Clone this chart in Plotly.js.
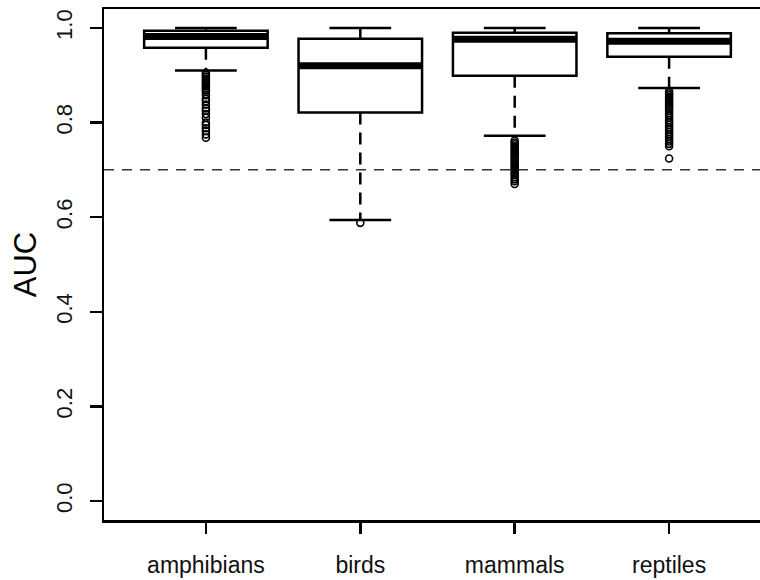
<!DOCTYPE html>
<html>
<head>
<meta charset="utf-8">
<script src="https://cdn.plot.ly/plotly-3.0.1.min.js"></script>
<style>
html,body{margin:0;padding:0;background:#fff;overflow:hidden;width:760px;height:580px;}
#chart{width:780px;height:580px;}
</style>
</head>
<body>
<div id="chart"></div>
<script>
// ---- data ----
var categories = ['amphibians', 'birds', 'mammals', 'reptiles'];
var q1 = [0.958, 0.821, 0.899, 0.939];
var medians = [0.982, 0.920, 0.976, 0.972];
var q3 = [0.994, 0.977, 0.990, 0.989];
var lowerWhisker = [0.910, 0.594, 0.772, 0.873];
var upperWhisker = [1.000, 1.000, 1.000, 1.000];
var outliersAmphibians = [0.905, 0.901, 0.897, 0.893, 0.889, 0.885, 0.881, 0.877, 0.873, 0.869, 0.865, 0.858, 0.850, 0.845, 0.838, 0.830, 0.825, 0.818, 0.810, 0.800, 0.795, 0.788, 0.782, 0.775, 0.768];
var outliersBirds = [0.588];
var outliersMammals = [0.762, 0.758, 0.754, 0.750, 0.746, 0.742, 0.738, 0.734, 0.730, 0.726, 0.722, 0.718, 0.714, 0.710, 0.706, 0.702, 0.698, 0.694, 0.690, 0.685, 0.680, 0.676, 0.670];
var outliersReptiles = [0.866, 0.862, 0.858, 0.854, 0.850, 0.846, 0.842, 0.838, 0.834, 0.830, 0.825, 0.820, 0.815, 0.810, 0.805, 0.800, 0.795, 0.790, 0.785, 0.780, 0.775, 0.770, 0.765, 0.760, 0.755, 0.750, 0.724];
var threshold = 0.7;
var yTickVals = [0, 0.2, 0.4, 0.6, 0.8, 1.0];
var yTickText = ['0.0', '0.2', '0.4', '0.6', '0.8', '1.0'];

var outliers = [outliersAmphibians, outliersBirds, outliersMammals, outliersReptiles];

// ---- build traces ----
var traces = [];
var boxHalf = 0.4, capHalf = 0.2;
categories.forEach(function (c, i) {
  var x = i + 1;
  traces.push({
    type: 'box', x: [x], q1: [q1[i]], median: [medians[i]], q3: [q3[i]],
    lowerfence: [q1[i]], upperfence: [q3[i]],
    width: 2 * boxHalf, whiskerwidth: 0, boxpoints: false,
    fillcolor: '#ffffff', line: {color: '#000', width: 2.5},
    hoverinfo: 'skip', showlegend: false
  });
});
// whiskers (dashed)
var wx = [], wy = [];
categories.forEach(function (c, i) {
  var x = i + 1;
  wx.push(x, x, null, x, x, null);
  wy.push(q3[i], upperWhisker[i], null, q1[i], lowerWhisker[i], null);
});
traces.push({type: 'scatter', mode: 'lines', x: wx, y: wy, line: {color: '#000', width: 2.5, dash: '12px,8px'}, hoverinfo: 'skip', showlegend: false});
// caps
var cx = [], cy = [];
categories.forEach(function (c, i) {
  var x = i + 1;
  cx.push(x - capHalf, x + capHalf, null, x - capHalf, x + capHalf, null);
  cy.push(upperWhisker[i], upperWhisker[i], null, lowerWhisker[i], lowerWhisker[i], null);
});
traces.push({type: 'scatter', mode: 'lines', x: cx, y: cy, line: {color: '#000', width: 2.5}, hoverinfo: 'skip', showlegend: false});
// medians (thick)
var mx = [], my = [];
categories.forEach(function (c, i) {
  var x = i + 1;
  mx.push(x - boxHalf, x + boxHalf, null);
  my.push(medians[i], medians[i], null);
});
traces.push({type: 'scatter', mode: 'lines', x: mx, y: my, line: {color: '#000', width: 7}, hoverinfo: 'skip', showlegend: false});
// outliers
var ox = [], oy = [];
categories.forEach(function (c, i) {
  outliers[i].forEach(function (v) { ox.push(i + 1); oy.push(v); });
});
traces.push({type: 'scatter', mode: 'markers', x: ox, y: oy,
  marker: {symbol: 'circle-open', size: 7, color: '#000', line: {width: 1.6, color: '#000'}},
  hoverinfo: 'skip', showlegend: false});

var layout = {
  width: 780, height: 580,
  margin: {l: 104, r: 9, t: 9, b: 60},
  paper_bgcolor: '#fff', plot_bgcolor: '#fff',
  font: {family: '"Liberation Sans", Arial, Helvetica, sans-serif', color: '#000'},
  showlegend: false,
  xaxis: {
    range: [0.34, 4.66], tickvals: [1, 2, 3, 4], ticktext: categories,
    showgrid: false, zeroline: false, showline: true, mirror: true,
    linecolor: '#000', linewidth: 2.5,
    ticks: 'outside', ticklen: 11, tickwidth: 2.5, tickcolor: '#000',
    ticklabelstandoff: 12,
    tickfont: {size: 23, color: '#111'}
  },
  yaxis: {
    range: [-0.04, 1.04], tickvals: yTickVals, ticktext: yTickText, tickangle: -90,
    showgrid: false, zeroline: false, showline: true, mirror: true,
    linecolor: '#000', linewidth: 2.5,
    ticks: 'outside', ticklen: 12, tickwidth: 2.5, tickcolor: '#000',
    ticklabelstandoff: 9,
    tickfont: {size: 22, color: '#111'},
    title: {text: 'AUC', font: {size: 31, color: '#000'}, standoff: 6}
  },
  shapes: [{
    type: 'line', xref: 'paper', x0: 0, x1: 1, yref: 'y', y0: threshold, y1: threshold,
    line: {color: '#333', width: 1.5, dash: '10px,8px'}, layer: 'below'
  }]
};

Plotly.newPlot('chart', traces, layout, {staticPlot: true, displayModeBar: false});
</script>
</body>
</html>
